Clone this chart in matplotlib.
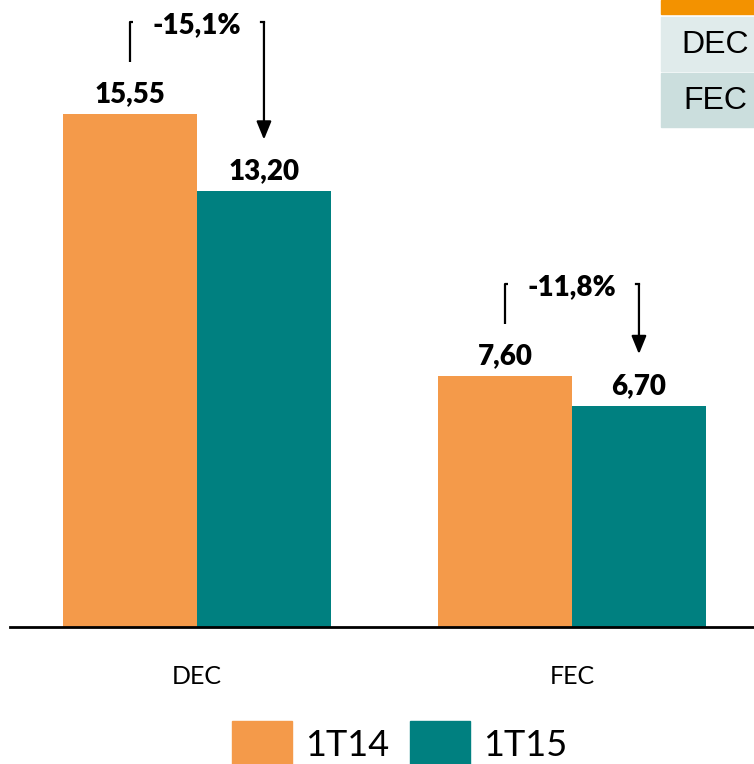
import matplotlib
matplotlib.use("Agg")
import matplotlib.pyplot as plt
from matplotlib.patches import Rectangle
import numpy as np

plt.rcParams['font.family'] = ['Lato', 'DejaVu Sans']

# data
categories = ['DEC', 'FEC']
series_names = ['1T14', '1T15']
values_1t14 = [15.55, 7.60]
values_1t15 = [13.20, 6.70]
changes = ['-15,1%', '-11,8%']
table_rows = ['DEC', 'FEC']

orange = '#F49A4A'
teal = '#008080'

W, H = 754, 764
fig = plt.figure(figsize=(W / 100, H / 100), dpi=100)
ax = fig.add_axes([10 / W, 137 / H, 744 / W, 627 / H])

x = np.arange(len(categories))
width = 0.357
ax.bar(x - width / 2, values_1t14, width, color=orange, label=series_names[0])
ax.bar(x + width / 2, values_1t15, width, color=teal, label=series_names[1])

ax.set_xlim(-0.4987, 1.4853)
ax.set_ylim(0, 19)

for spine in ['top', 'right', 'left']:
    ax.spines[spine].set_visible(False)
ax.spines['bottom'].set_linewidth(2)
ax.set_yticks([])
ax.set_xticks([])

# value labels
for i in range(len(categories)):
    for off, v in [(-width / 2, values_1t14[i]), (width / 2, values_1t15[i])]:
        ax.text(x[i] + off, v + 0.36, '{:.2f}'.format(v).replace('.', ','),
                ha='center', va='baseline', fontsize=20, fontweight='heavy')

# change brackets and arrows
for i in range(len(categories)):
    xl = x[i] - width / 2
    xr = x[i] + width / 2
    top = values_1t14[i] + 2.78
    hook = 0.008
    ax.plot([xl, xl, xl + hook], [values_1t14[i] + 1.57, top, top], color='black', lw=1.6,
            solid_capstyle='butt')
    ax.plot([xr - hook, xr], [top, top], color='black', lw=1.6)
    ax.annotate('', xy=(xr, values_1t15[i] + 1.57), xytext=(xr, top),
                arrowprops=dict(arrowstyle='-|>,head_length=1.1,head_width=0.45',
                                color='black', lw=1.6, shrinkA=0, shrinkB=0))
    ax.text(x[i], top - 0.32, changes[i], ha='center', va='baseline',
            fontsize=20, fontweight='heavy')

# category labels
for i, c in enumerate(categories):
    fig.text((197 + 375 * i) / W, 1 - 677 / H, c, ha='center', va='center', fontsize=18)

# legend
for i, (name, col) in enumerate(zip(series_names, [orange, teal])):
    x0 = 232 + 178 * i
    fig.patches.append(Rectangle((x0 / W, 0), 60 / W, 43 / H, transform=fig.transFigure,
                                 color=col, figure=fig))
    fig.text((x0 + 73) / W, 1 - 746 / H, name, ha='left', va='center', fontsize=26)

# cropped table at top right
fig.patches.append(Rectangle((661 / W, 1 - 14 / H), 93 / W, 14 / H, transform=fig.transFigure,
                             color='#F39200', figure=fig))
cell_colors = ['#E0EBEB', '#CBDEDD']
cell_tops = [17, 73]
for name, col, t in zip(table_rows, cell_colors, cell_tops):
    fig.patches.append(Rectangle((661 / W, 1 - (t + 54) / H), 93 / W, 54 / H,
                                 transform=fig.transFigure, color=col, figure=fig))
    fig.text(715 / W, 1 - (t + 28) / H, name, ha='center', va='center', fontsize=23,
             family='Liberation Sans')

fig.savefig('out.png', dpi=100)
